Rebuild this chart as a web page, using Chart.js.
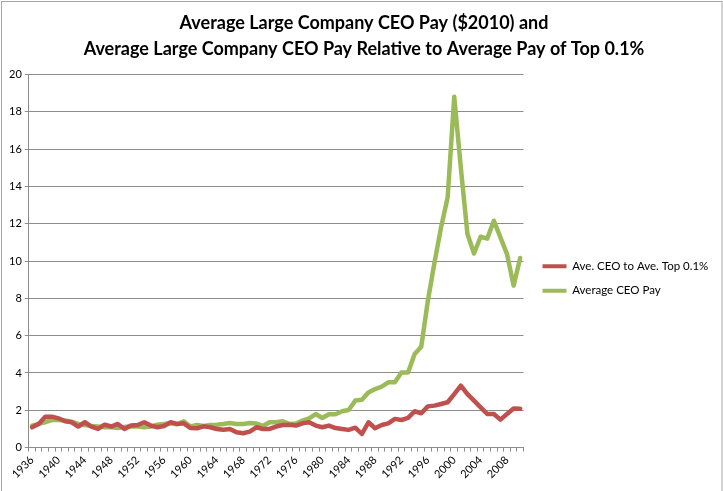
<!DOCTYPE html>
<html lang="en">
<head>
    <meta charset="utf-8">
    <title>Average Large Company CEO Pay</title>
    <style>
        html, body { margin: 0; padding: 0; background: #fff; }
        #wrap { width: 723px; height: 491px; }
    </style>
</head>
<body>
    <div id="wrap"><canvas id="chart" width="723" height="491"></canvas></div>
    <script src="https://cdn.jsdelivr.net/npm/chart.js@4.4.0/dist/chart.umd.min.js"></script>
    <script>
        // years on the category axis
        const years = [];
        for (let y = 1936; y <= 2010; y++) years.push(String(y));

        // Ave. CEO to Ave. Top 0.1% (red)
        const ceoToTop = [
            1.09, 1.27, 1.66, 1.66, 1.57, 1.41, 1.36, 1.13, 1.36, 1.13,
            1.00, 1.23, 1.13, 1.27, 1.00, 1.18, 1.21, 1.36, 1.18, 1.09,
            1.16, 1.36, 1.27, 1.30, 1.05, 1.04, 1.14, 1.09, 1.00, 0.96,
            1.00, 0.82, 0.77, 0.86, 1.09, 1.00, 1.00, 1.13, 1.21, 1.23,
            1.18, 1.30, 1.36, 1.18, 1.09, 1.18, 1.05, 1.00, 0.95, 1.07,
            0.73, 1.36, 1.04, 1.21, 1.30, 1.54, 1.48, 1.59, 1.95, 1.84,
            2.21, 2.25, 2.34, 2.43, 2.87, 3.32, 2.87, 2.52, 2.16, 1.80,
            1.80, 1.50, 1.80, 2.10, 2.08
        ];

        // Average CEO Pay (green)
        const ceoPay = [
            1.18, 1.27, 1.36, 1.48, 1.48, 1.45, 1.39, 1.27, 1.21, 1.16,
            1.13, 1.09, 1.09, 1.05, 1.10, 1.14, 1.13, 1.09, 1.13, 1.23,
            1.27, 1.30, 1.25, 1.41, 1.13, 1.21, 1.16, 1.21, 1.23, 1.27,
            1.32, 1.27, 1.27, 1.32, 1.29, 1.16, 1.36, 1.36, 1.41, 1.27,
            1.29, 1.45, 1.57, 1.80, 1.59, 1.79, 1.79, 1.95, 2.02, 2.52,
            2.57, 2.96, 3.14, 3.27, 3.50, 3.50, 4.03, 4.03, 5.02, 5.41,
            7.87, 9.90, 11.80, 13.40, 18.80, 15.00, 11.45, 10.40, 11.30, 11.20,
            12.16, 11.27, 10.37, 8.68, 10.16
        ];

        const titleLines = [
            'Average Large Company CEO Pay ($2010) and',
            'Average Large Company CEO Pay Relative to Average Pay of Top 0.1%'
        ];

        const FONT = 'Lato, "Open Sans", sans-serif';

        const excelLook = {
            id: 'excelLook',
            afterLayout(chart) {
                // title is centred on the whole chart box in Excel
                chart.titleBlock.left += 13;
                chart.titleBlock.right += 13;
                // legend sits a bit lower and further right, and v4 cuts its text short
                const lg = chart.legend;
                lg.top += 37;
                lg.bottom += 37;
                lg.left += 6;
                lg.right += 22;
                lg.width += 16;
            },
            afterDraw(chart) {
                // grey frame round the chart area
                const c = chart.ctx;
                c.save();
                c.strokeStyle = '#a6a6a6';
                c.lineWidth = 1;
                c.strokeRect(1.5, 1.5, chart.width - 2.5, chart.height + 10);
                c.restore();
            }
        };

        new Chart(document.getElementById('chart'), {
            type: 'line',
            data: {
                labels: years,
                datasets: [
                    {
                        label: 'Ave. CEO to Ave. Top 0.1%',
                        data: ceoToTop,
                        borderColor: '#c0504d',
                        backgroundColor: '#c0504d',
                        borderWidth: 4.5,
                        borderJoinStyle: 'round',
                        borderCapStyle: 'round',
                        pointRadius: 0,
                        tension: 0
                    },
                    {
                        label: 'Average CEO Pay',
                        data: ceoPay,
                        borderColor: '#9bbb59',
                        backgroundColor: '#9bbb59',
                        borderWidth: 4.5,
                        borderJoinStyle: 'round',
                        borderCapStyle: 'round',
                        pointRadius: 0,
                        tension: 0
                    }
                ]
            },
            options: {
                responsive: false,
                animation: false,
                layout: { padding: { left: 6, right: 27, top: 0, bottom: 8 } },
                plugins: {
                    title: {
                        display: true,
                        text: titleLines,
                        color: '#000',
                        font: { family: FONT, size: 18, weight: 'bold', lineHeight: 1.4 },
                        padding: { top: 11, bottom: 13 }
                    },
                    legend: {
                        position: 'right',
                        labels: {
                            color: '#000',
                            font: { family: FONT, size: 11.5 },
                            boxWidth: 24,
                            boxHeight: 4,
                            padding: 13,
                            generateLabels: (chart) =>
                                Chart.defaults.plugins.legend.labels.generateLabels(chart)
                                    .map(l => Object.assign(l, { lineWidth: 0 }))
                        }
                    },
                    tooltip: { enabled: false }
                },
                scales: {
                    x: {
                        offset: true,
                        grid: {
                            display: true,
                            offset: true,
                            drawOnChartArea: false,
                            drawTicks: true,
                            tickLength: 4,
                            color: '#8c8c8c'
                        },
                        border: { color: '#8c8c8c' },
                        ticks: {
                            autoSkip: false,
                            maxRotation: 45,
                            minRotation: 45,
                            color: '#000',
                            font: { family: FONT, size: 11 },
                            padding: 2,
                            callback: (v, i) => (i % 4 === 0 ? years[i] : '')
                        }
                    },
                    y: {
                        min: 0,
                        max: 20,
                        grid: { color: '#8c8c8c', tickLength: 4 },
                        border: { color: '#8c8c8c' },
                        ticks: {
                            stepSize: 2,
                            color: '#000',
                            font: { family: FONT, size: 11 },
                            padding: 3
                        }
                    }
                }
            },
            plugins: [excelLook]
        });
    </script>
</body>
</html>
